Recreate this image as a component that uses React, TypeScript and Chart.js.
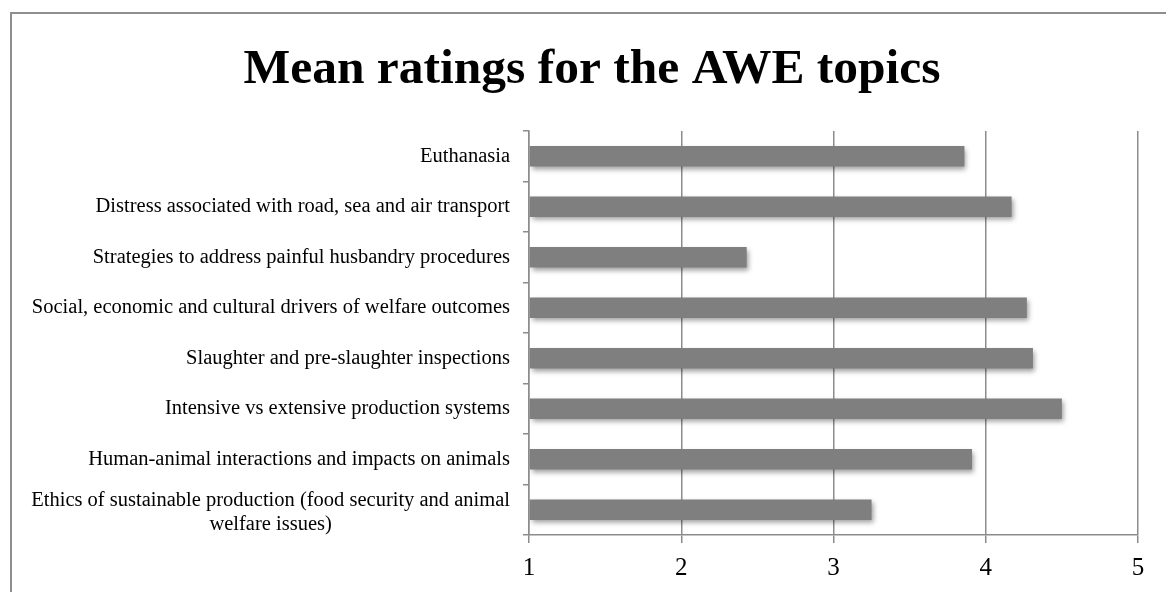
import React, { useEffect, useRef } from "react";
import { Chart, registerables } from "chart.js";

Chart.register(...registerables);

const TITLE = "Mean ratings for the AWE topics";
const categories: (string | string[])[] = [
  "Euthanasia",
  "Distress associated with road, sea and air transport",
  "Strategies to address painful husbandry procedures",
  "Social, economic and cultural drivers of welfare outcomes",
  "Slaughter and pre-slaughter inspections",
  "Intensive vs extensive production systems",
  "Human-animal interactions and impacts on animals",
  ["Ethics of sustainable production (food security and animal", "welfare issues)"],
];
const meanRatings = [3.86, 4.17, 2.43, 4.27, 4.31, 4.5, 3.91, 3.25];
const xTicks = [1, 2, 3, 4, 5];

const GRID = "#8c8c8c";
const SERIF = "'Liberation Serif', 'Times New Roman', serif";

const shadowPlugin = {
  id: "barShadow",
  beforeDatasetsDraw(chart: any) {
    const ctx = chart.ctx;
    ctx.save();
    ctx.shadowColor = "rgba(0,0,0,0.38)";
    ctx.shadowBlur = 5;
    ctx.shadowOffsetX = 2;
    ctx.shadowOffsetY = 3;
  },
  afterDatasetsDraw(chart: any) {
    chart.ctx.restore();
  },
};

const titlePlugin = {
  id: "customTitle",
  afterDraw(chart: any) {
    const ctx = chart.ctx;
    ctx.save();
    ctx.fillStyle = "#000";
    ctx.font = `bold 49.5px ${SERIF}`;
    ctx.textAlign = "center";
    ctx.textBaseline = "alphabetic";
    ctx.fillText(TITLE, 592, 83);
    ctx.restore();
  },
};

const yLabelPlugin = {
  id: "yLabels",
  afterDraw(chart: any) {
    const ctx = chart.ctx;
    const scale = chart.scales.y;
    const right = chart.chartArea.left - 19;
    ctx.save();
    ctx.fillStyle = "#000";
    ctx.font = `20.5px ${SERIF}`;
    ctx.textBaseline = "middle";
    scale.ticks.forEach((_t: any, i: number) => {
      const y = scale.getPixelForTick(i);
      const lab = categories[i];
      if (Array.isArray(lab)) {
        const widths = lab.map((l) => ctx.measureText(l).width);
        const w = Math.max(...widths);
        const cx = right - w / 2;
        const lh = 23.5;
        const start = y + 3 - ((lab.length - 1) * lh) / 2;
        ctx.textAlign = "center";
        lab.forEach((l, k) => ctx.fillText(l, cx, start + k * lh));
      } else {
        ctx.textAlign = "right";
        ctx.fillText(lab, right, y);
      }
    });
    ctx.restore();
  },
};

export default function App() {
  const ref = useRef<HTMLCanvasElement | null>(null);
  useEffect(() => {
    if (!ref.current) return;
    const chart = new Chart(ref.current, {
      type: "bar",
      data: {
        labels: categories as any,
        datasets: [
          {
            data: meanRatings,
            base: 1,
            backgroundColor: "#7f7f7f",
            borderWidth: 0,
            barPercentage: 0.41,
            categoryPercentage: 1,
          } as any,
        ],
      },
      options: {
        indexAxis: "y",
        responsive: false,
        animation: false,
        layout: { padding: { left: 0, right: 28, top: 131, bottom: 0 } },
        plugins: {
          legend: { display: false },
          tooltip: { enabled: false },
          title: { display: false },
        },
        scales: {
          x: {
            type: "linear",
            min: 1,
            max: 5,
            afterBuildTicks(scale: any) {
              scale.ticks = xTicks.map((v) => ({ value: v }));
            },
            ticks: {
              color: "#000",
              font: { family: SERIF, size: 25, lineHeight: 1.2 },
              padding: 10,
              maxRotation: 0,
            },
            grid: {
              color: GRID,
              lineWidth: 1.5,
              drawTicks: true,
              tickLength: 8,
            },
            border: { color: GRID, width: 1.5 },
            afterFit(scale: any) {
              scale.height = 57;
            },
          },
          y: {
            type: "category",
            offset: true,
            ticks: { display: false },
            grid: {
              offset: true,
              drawOnChartArea: false,
              drawTicks: true,
              tickLength: 6,
              color: GRID,
              lineWidth: 1.5,
            },
            border: { color: GRID, width: 1.5 },
            afterFit(scale: any) {
              scale.width = 529;
            },
          },
        },
      },
      plugins: [shadowPlugin, yLabelPlugin, titlePlugin],
    });
    return () => chart.destroy();
  }, []);

  return (
    <div
      style={{
        position: "fixed",
        left: 0,
        top: 0,
        width: 1166,
        height: 592,
        overflow: "hidden",
        background: "#fff",
      }}
    >
      <div
        style={{
          position: "absolute",
          left: 9.5,
          top: 11.5,
          width: 1300,
          height: 700,
          border: "2px solid #8f8f8f",
          boxSizing: "border-box",
        }}
      />
      <canvas
        ref={ref}
        width={1166}
        height={592}
        style={{ position: "absolute", left: 0, top: 0, width: 1166, height: 592 }}
      />
    </div>
  );
}
